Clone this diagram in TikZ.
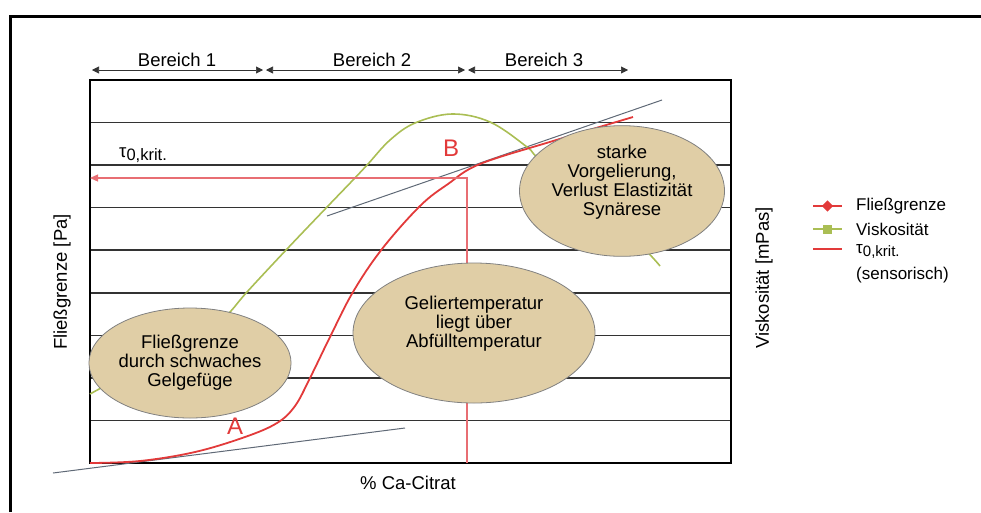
\documentclass[tikz,border=0pt]{standalone}
\usepackage{fontspec}
\setmainfont{Liberation Sans}
\usetikzlibrary{arrows.meta,shapes.geometric,calc}
\definecolor{fgred}{RGB}{226,58,58}
\definecolor{taured}{RGB}{232,110,115}
\definecolor{viskgreen}{RGB}{170,190,84}
\definecolor{tgray}{RGB}{95,105,118}
\definecolor{bubblefill}{RGB}{224,206,166}

\begin{document}
\begin{tikzpicture}[
	x=1pt, y=-1pt,
	outer/.style={line width=3pt},
	frame/.style={line width=2.2pt},
	grid line/.style={line width=1.6pt, draw=black!80},
	span line/.style={line width=0.6pt, draw=black!80, {Triangle[length=7pt,width=7pt]}-{Triangle[length=7pt,width=7pt]}},
	tangent/.style={line width=1pt, draw=tgray},
	fg line/.style={line width=1.8pt, draw=fgred},
	visk line/.style={line width=1.6pt, draw=viskgreen},
	tau line/.style={line width=1.2pt, draw=taured},
	bubble/.style={ellipse, draw=black!50, fill=bubblefill, line width=0.8pt, align=center, inner sep=0pt, font=\fontsize{18.5}{19}\selectfont},
	txt/.style={font=\fontsize{18.5}{21}\selectfont},
	legtxt/.style={font=\fontsize{17}{22}\selectfont, anchor=west, inner sep=0pt},
	every node/.style={color=black}
	]
	\useasboundingbox (0,0) rectangle (981,512);
	% outer border
	\draw[outer] (10,512) -- (10,16) -- (981,16);
	% grid and frame
	\foreach \k in {1,...,8}
		\draw[grid line] (90,80+42.56*\k) -- (731,80+42.56*\k);
	\draw[frame] (90,80) rectangle (731,463);
	% ranges
	\coordinate (r0) at (92,70);
	\coordinate (r1) at (263,70);
	\coordinate (r1b) at (266,70);
	\coordinate (r2) at (465,70);
	\coordinate (r2b) at (468,70);
	\coordinate (r3) at (628,70);
	\draw[span line] (r0) -- (r1);
	\draw[span line] (r1b) -- (r2);
	\draw[span line] (r2b) -- (r3);
	\node[txt] (ber1) at (177,60) {Bereich 1};
	\node[txt] (ber2) at (372,60) {Bereich 2};
	\node[txt] (ber3) at (544,60) {Bereich 3};
	% tangents
	\coordinate (t1a) at (327,216);
	\coordinate (t1b) at (662,100);
	\coordinate (t2a) at (53,473);
	\coordinate (t2b) at (405,428);
	\draw[tangent] (t1a) -- (t1b);
	\draw[tangent] (t2a) -- (t2b);
	% curves
	\draw[visk line] plot[smooth, tension=0.6] coordinates {(90,394) (150,362) (205,337) (230,312) (247,292) (287,249) (328,206) (353,180) (368,164) (390,140) (415,123) (452,114) (490,122) (527,147) (540,160) (600,212) (642,247) (660,266)};
	\draw[fg line] plot[smooth, tension=0.6] coordinates {(90,463) (140,461) (195,452) (245,437) (277,423) (295,406) (310,378) (330,337) (353,292) (382,249) (420,206) (448,184) (480,164) (553,141) (633,117)};
	% critical value
	\coordinate (tauy) at (90,178);
	\coordinate (tauk) at (467,178);
	\coordinate (taux) at (467,463);
	\draw[tau line, {Triangle[length=8pt,width=7pt]}-] (tauy) -- (tauk) -- (taux);
	\node[txt, anchor=base west, inner sep=0pt] (taulab) at (119,157) {τ\raisebox{-0.35ex}{\fontsize{16.5}{16.5}\selectfont 0,krit.}};
	\node[font=\fontsize{24}{24}\selectfont, text=fgred] (ptB) at (451,148) {B};
	\node[font=\fontsize{24}{24}\selectfont, text=fgred] (ptA) at (235,426) {A};
	% bubbles
	\node[bubble, minimum width=200pt, minimum height=110pt] (weak) at (190,363) {Fließgrenze\\durch schwaches\\Gelgefüge};
	\node[bubble, minimum width=242pt, minimum height=140pt] (gel) at (474,333) {Geliertemperatur\\liegt über\\Abfülltemperatur\\[4pt]};
	\node[bubble, minimum width=205pt, minimum height=112pt] (pre) at (622,191) {starke\\Vorgelierung,\\Verlust Elastizität\\Synärese\\[3pt]};
	% axis labels
	\node[txt, rotate=90] (ylab) at (62,282) {Fließgrenze [Pa]};
	\node[txt, rotate=90] (y2lab) at (764,278) {Viskosität [mPas]};
	\node[txt] (xlab) at (408,483) {\% Ca-Citrat};
	% legend
	\coordinate (l1a) at (813,206);
	\coordinate (l1b) at (842,206);
	\coordinate (l2a) at (813,229);
	\coordinate (l2b) at (842,229);
	\coordinate (l3a) at (813,249);
	\coordinate (l3b) at (842,249);
	\draw[fg line] (l1a) -- (l1b) node[midway, diamond, fill=fgred, inner sep=0pt, minimum size=12pt] (m1) {};
	\draw[visk line] (l2a) -- (l2b) node[midway, rectangle, fill=viskgreen, inner sep=0pt, minimum size=9pt] (m2) {};
	\draw[fg line] (l3a) -- (l3b);
	\node[legtxt] (leg1) at (856,206) {Fließgrenze};
	\node[legtxt] (leg2) at (856,229) {Viskosität};
	\node[legtxt, anchor=base west] (leg3) at (856,253) {τ\raisebox{-0.35ex}{\fontsize{15}{15}\selectfont 0,krit.}};
	\node[legtxt] (leg4) at (856,275) {(sensorisch)};
\end{tikzpicture}
\end{document}
